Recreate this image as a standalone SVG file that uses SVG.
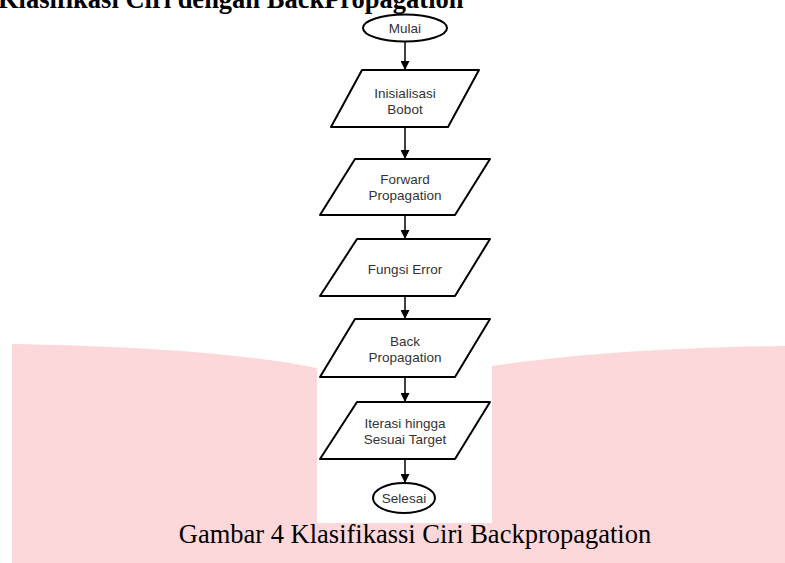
<svg xmlns="http://www.w3.org/2000/svg" width="785" height="563" viewBox="0 0 785 563">
  <defs>
    <marker id="arr" viewBox="0 0 10 10" refX="10" refY="5" markerWidth="9" markerHeight="9" markerUnits="userSpaceOnUse" orient="auto">
      <path d="M0,0 L10,5 L0,10 Z" fill="#000"/>
    </marker>
  </defs>
  <style>
    .shape { fill: #fff; stroke: #000; stroke-width: 2; stroke-linejoin: round; }
    .lbl { font-family: "Liberation Sans", Arial, sans-serif; font-size: 13.5px; fill: #333; text-anchor: middle; }
    .conn { stroke: #000; stroke-width: 1.5; fill: none; marker-end: url(#arr); }
    .serif { font-family: "Liberation Serif", "Times New Roman", serif; font-size: 26.5px; fill: #000; }
  </style>
  <rect width="785" height="563" fill="#fff"/>
  <path d="M12,344 C120,346 240,352 317,368 L492,366 C570,354 680,347 785,346 L785,563 L12,563 Z" fill="#fdd8da"/>
  <rect x="317" y="340" width="175" height="183" fill="#fff"/>
  <text class="serif" x="-2" y="8" font-weight="bold">Klasifikasi Ciri dengan BackPropagation</text>
  <g id="connectors">
    <line class="conn" x1="405" y1="42" x2="405" y2="70"/>
    <line class="conn" x1="405" y1="127" x2="405" y2="159"/>
    <line class="conn" x1="405" y1="215" x2="405" y2="239"/>
    <line class="conn" x1="405" y1="296" x2="405" y2="319"/>
    <line class="conn" x1="405" y1="377" x2="405" y2="402"/>
    <line class="conn" x1="405" y1="459" x2="405" y2="483"/>
  </g>
  <g id="mulai">
    <ellipse class="shape" cx="405" cy="28" rx="42" ry="13.5"/>
    <text class="lbl" x="405" y="33">Mulai</text>
  </g>
  <g id="inisialisasi">
    <polygon class="shape" points="362,70 479,70 448,127 331,127"/>
    <text class="lbl" x="405" y="98">Inisialisasi</text>
    <text class="lbl" x="405" y="114">Bobot</text>
  </g>
  <g id="forward">
    <polygon class="shape" points="355,159 490,159 455,215 320,215"/>
    <text class="lbl" x="405" y="184">Forward</text>
    <text class="lbl" x="405" y="200">Propagation</text>
  </g>
  <g id="error">
    <polygon class="shape" points="357,239 490,239 455,296 320,296"/>
    <text class="lbl" x="405" y="274">Fungsi Error</text>
  </g>
  <g id="back">
    <polygon class="shape" points="355,319 490,319 455,377 320,377"/>
    <text class="lbl" x="405" y="346">Back</text>
    <text class="lbl" x="405" y="362">Propagation</text>
  </g>
  <g id="iterasi">
    <polygon class="shape" points="357,402 490,402 455,459 320,459"/>
    <text class="lbl" x="405" y="428">Iterasi hingga</text>
    <text class="lbl" x="405" y="444">Sesuai Target</text>
  </g>
  <g id="selesai">
    <ellipse class="shape" cx="404" cy="498" rx="31" ry="15"/>
    <text class="lbl" x="404" y="503">Selesai</text>
  </g>
  <text class="serif" x="415" y="543" text-anchor="middle">Gambar 4 Klasifikassi Ciri Backpropagation</text>
</svg>
